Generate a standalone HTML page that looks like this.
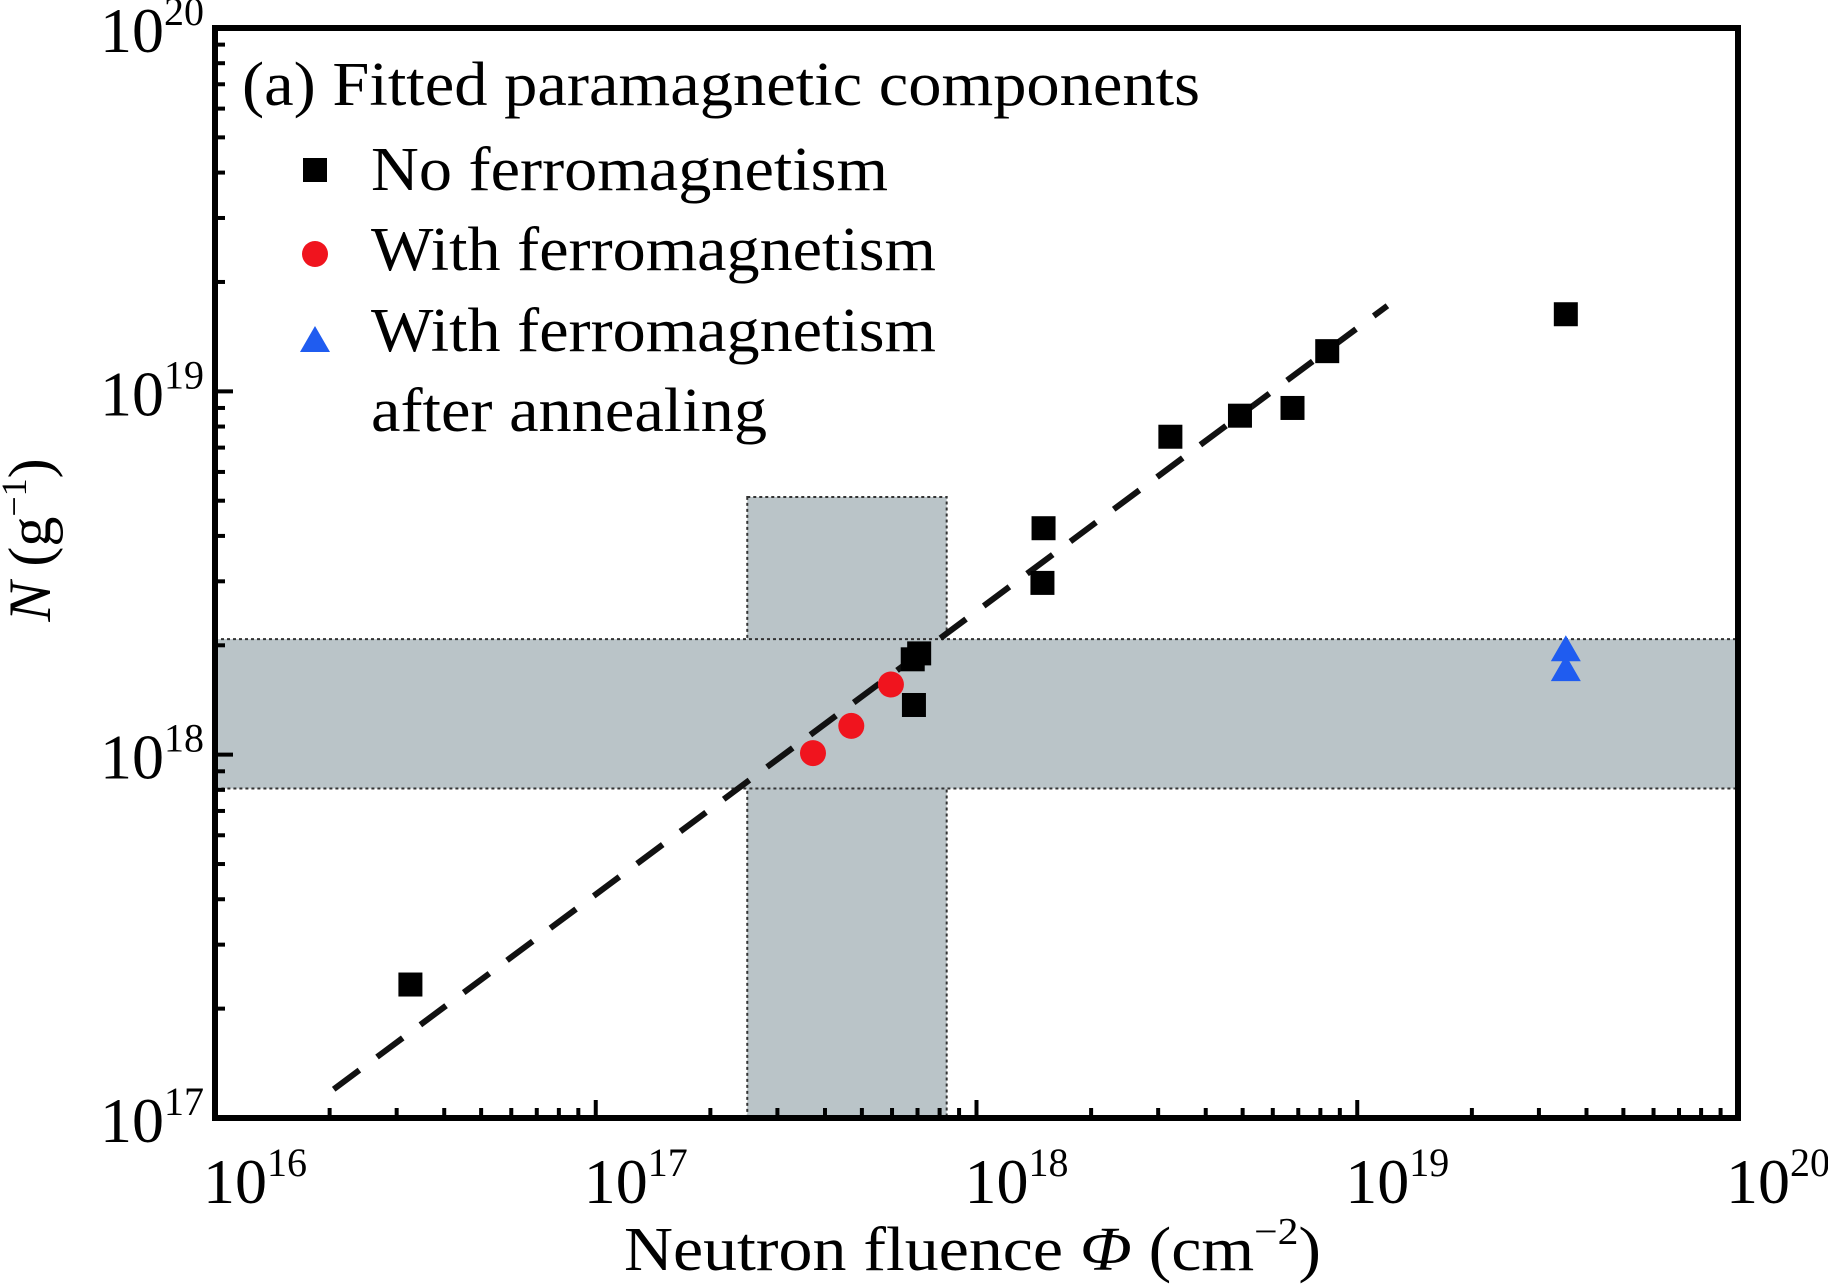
<!DOCTYPE html>
<html><head><meta charset="utf-8"><style>
html,body{margin:0;padding:0;background:#fff;}
svg{display:block;font-family:"Liberation Serif",serif;}
</style></head><body>
<svg id="chart" width="1828" height="1286" viewBox="0 0 1828 1286" xmlns="http://www.w3.org/2000/svg"></svg>
<script>
const xTickExps = [16, 17, 18, 19, 20];
const yTickExps = [17, 18, 19, 20];
const squareX = [3.26e16, 6.8e17, 7.07e17, 6.85e17, 1.5e18, 1.49e18, 3.23e18, 4.92e18, 6.76e18, 8.34e18, 3.53e19];
const squareY = [2.33e17, 1.83e18, 1.9e18, 1.37e18, 4.2e18, 2.97e18, 7.5e18, 8.57e18, 9.0e18, 1.29e19, 1.63e19];
const circleX = [3.72e17, 4.69e17, 5.96e17];
const circleY = [1.01e18, 1.2e18, 1.56e18];
const triX = [3.53e19, 3.53e19];
const triY = [1.95e18, 1.72e18];
const fitX = [2.05e16, 1.2e19];
const fitY = [1.2e17, 1.72e19];
const vBandX = [2.5e17, 8.35e17];
const vBandY = [1e17, 5.12e18];
const hBandY = [8.07e17, 2.08e18];

const L=215, R=1738, T=28, B=1118;
const xs = v => L + (Math.log10(v)-16)/4*(R-L);
const ys = v => B - (Math.log10(v)-17)/3*(B-T);
const svg = document.getElementById('chart');
const NS='http://www.w3.org/2000/svg';
function mk(tag, attrs, parent){const e=document.createElementNS(NS,tag);for(const k in attrs)e.setAttribute(k,attrs[k]);(parent||svg).appendChild(e);return e;}

let vb = mk('rect',{x:xs(vBandX[0]),y:ys(vBandY[1]),width:xs(vBandX[1])-xs(vBandX[0]),height:ys(vBandY[0])-ys(vBandY[1]),fill:'#bac4c8',stroke:'#333','stroke-width':2,'stroke-dasharray':'3,3'});


let hb = mk('rect',{x:L,y:ys(hBandY[1]),width:R-L,height:ys(hBandY[0])-ys(hBandY[1]),fill:'#bac4c8',stroke:'#333','stroke-width':2,'stroke-dasharray':'3,3'});



let fl = mk('line',{x1:xs(fitX[0]),y1:ys(fitY[0]),x2:xs(fitX[1]),y2:ys(fitY[1]),stroke:'#111','stroke-width':6,'stroke-dasharray':'32,22'});



let fr = mk('rect',{x:L,y:T,width:R-L,height:B-T,fill:'none',stroke:'#000','stroke-width':6});



for(let e=16;e<20;e++){for(let m=1;m<10;m++){const x=xs(m*Math.pow(10,e));if(m===1&&e===16)continue;const len=m===1?18:10;let t=mk('line',{x1:x,y1:B,x2:x,y2:B-len,stroke:'#000','stroke-width':4});}}
for(let e=17;e<20;e++){for(let m=1;m<10;m++){const y=ys(m*Math.pow(10,e));if(m===1&&e===17)continue;const len=m===1?18:10;let t=mk('line',{x1:L,y1:y,x2:L+len,y2:y,stroke:'#000','stroke-width':4});}}

xTickExps.forEach(e=>{const x=xs(Math.pow(10,e));const t=mk('text',{x:x-12,y:1203,'font-size':64});t.textContent='10';const s=mk('tspan',{dy:-27,'font-size':40},t);s.textContent=String(e);});
yTickExps.forEach(e=>{const y=ys(Math.pow(10,e));const t=mk('text',{x:204,y:y+24,'font-size':64,'text-anchor':'end'});const a=mk('tspan',{},t);a.textContent='10';const s=mk('tspan',{dy:-27,'font-size':40},t);s.textContent=String(e);});

squareX.forEach((v,i)=>{const x=xs(v),y=ys(squareY[i]);let r=mk('rect',{x:x-12,y:y-12,width:24,height:24,fill:'#000'});});
circleX.forEach((v,i)=>{let c=mk('circle',{cx:xs(v),cy:ys(circleY[i]),r:13,fill:'#f0141e'});});
triX.forEach((v,i)=>{const x=xs(v),y=ys(triY[i]);let p=mk('polygon',{points:`${x},${y-14} ${x-15},${y+12} ${x+15},${y+12}`,fill:'#1f5cf0'});});
</script>
<svg style="position:absolute;left:0;top:0" width="1828" height="1286">
<g font-family="Liberation Serif, serif" font-size="62" fill="#000">
<text x="242" y="105" textLength="958" lengthAdjust="spacingAndGlyphs">(a) Fitted paramagnetic components</text>
<rect x="303" y="158" width="24" height="24" fill="#000"/>
<text x="371" y="190" textLength="517" lengthAdjust="spacingAndGlyphs">No ferromagnetism</text>
<circle cx="315" cy="254" r="13" fill="#f0141e"/>
<text x="371" y="270" textLength="565" lengthAdjust="spacingAndGlyphs">With ferromagnetism</text>
<polygon points="315,326 300,352 330,352" fill="#1f5cf0"/>
<text x="371" y="351" textLength="565" lengthAdjust="spacingAndGlyphs">With ferromagnetism</text>
<text x="371" y="431" textLength="396" lengthAdjust="spacingAndGlyphs">after annealing</text>
<text x="624" y="1270" textLength="697" lengthAdjust="spacingAndGlyphs">Neutron fluence  <tspan font-style="italic">Φ</tspan>  (cm<tspan dy="-26" font-size="38">−2</tspan><tspan dy="26">)</tspan></text>
<text transform="translate(50,540) rotate(-90)" text-anchor="middle" font-size="60"><tspan font-style="italic">N</tspan> (g<tspan dy="-24" font-size="36">−1</tspan><tspan dy="24">)</tspan></text>
</g></svg>
</body></html>
